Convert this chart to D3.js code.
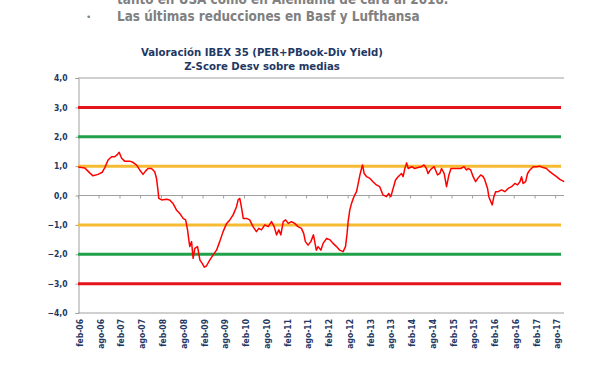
<!DOCTYPE html>
<html>
<head>
<meta charset="utf-8">
<script src="https://cdn.jsdelivr.net/npm/d3@7"></script>
<style>
  body { margin: 0; background: #fff; }
  svg { display: block; }
</style>
</head>
<body>
<svg id="chart" width="615" height="380"></svg>
<script>
// Z-score series
const dates = [
  "2006-02-03","2006-04-01","2006-05-15","2006-06-13","2006-07-27","2006-09-02","2006-09-25","2006-10-24",
  "2006-11-23","2006-12-22","2007-01-15","2007-01-29","2007-02-20","2007-03-18","2007-05-02","2007-05-30",
  "2007-06-30","2007-07-29","2007-08-27","2007-09-18","2007-10-10","2007-11-10","2007-12-08","2007-12-24",
  "2008-01-07","2008-01-13","2008-02-07","2008-03-20","2008-04-18","2008-05-17","2008-06-16","2008-07-15",
  "2008-08-14","2008-09-05","2008-09-22","2008-10-03","2008-10-12","2008-10-27","2008-11-10","2008-11-25",
  "2008-12-19","2009-01-09","2009-01-29","2009-02-16","2009-03-07","2009-04-05","2009-05-04","2009-06-04",
  "2009-07-02","2009-08-01","2009-09-01","2009-09-29","2009-10-28","2009-11-27","2009-12-11","2009-12-26",
  "2010-01-11","2010-01-25","2010-02-24","2010-03-23","2010-04-21","2010-05-21","2010-06-11","2010-07-04",
  "2010-08-03","2010-09-02","2010-10-01","2010-10-24","2010-11-14","2010-12-04","2010-12-22","2011-01-12",
  "2011-02-02","2011-02-25","2011-03-25","2011-04-23","2011-05-22","2011-06-21","2011-07-11","2011-07-26",
  "2011-08-18","2011-09-12","2011-10-05","2011-10-30","2011-11-15","2011-12-09","2011-12-29","2012-01-29",
  "2012-02-27","2012-03-25","2012-04-25","2012-05-23","2012-06-22","2012-07-13","2012-07-27","2012-08-05",
  "2012-08-20","2012-09-04","2012-09-19","2012-10-03","2012-10-18","2012-11-02","2012-11-17","2012-12-01",
  "2012-12-10","2012-12-24","2013-01-15","2013-02-13","2013-03-12","2013-04-11","2013-05-10","2013-06-08",
  "2013-07-08","2013-07-28","2013-08-16","2013-09-05","2013-09-26","2013-10-19","2013-11-18","2013-12-02",
  "2013-12-17","2014-01-02","2014-01-16","2014-02-15","2014-03-14","2014-04-12","2014-05-12","2014-06-04",
  "2014-06-25","2014-07-09","2014-08-02","2014-09-01","2014-10-01","2014-10-21","2014-11-05","2014-11-28",
  "2014-12-19","2015-01-09","2015-01-27","2015-02-23","2015-03-25","2015-04-23","2015-05-22","2015-06-13",
  "2015-06-27","2015-07-20","2015-08-10","2015-09-01","2015-09-23","2015-10-16","2015-11-06","2015-11-21",
  "2015-12-15","2015-12-26","2016-01-13","2016-01-25","2016-02-09","2016-02-24","2016-03-17","2016-04-16",
  "2016-05-15","2016-06-13","2016-07-13","2016-08-11","2016-09-04","2016-09-25","2016-10-09","2016-10-23",
  "2016-11-14","2016-12-01","2016-12-22","2017-01-20","2017-02-19","2017-03-18","2017-04-17","2017-05-16",
  "2017-06-15","2017-07-13","2017-08-13","2017-09-11","2017-10-19"
];
const zscore = [
  0.97, 0.94, 0.77, 0.67, 0.72, 0.79, 0.95, 1.21,
  1.32, 1.32, 1.40, 1.47, 1.27, 1.17, 1.17, 1.13,
  1.04, 0.87, 0.72, 0.83, 0.92, 0.92, 0.81, 0.58,
  0.13, -0.10, -0.15, -0.13, -0.15, -0.27, -0.49, -0.61,
  -0.78, -0.83, -1.17, -1.51, -1.74, -1.57, -2.14, -1.80,
  -1.74, -2.20, -2.31, -2.44, -2.40, -2.20, -2.03, -1.86,
  -1.57, -1.23, -0.95, -0.83, -0.66, -0.38, -0.15, -0.10,
  -0.44, -0.78, -0.78, -0.83, -1.06, -1.23, -1.12, -1.17,
  -1.00, -1.06, -0.89, -1.06, -1.34, -1.17, -1.34, -0.89,
  -0.83, -0.95, -0.89, -0.95, -1.06, -1.12, -1.29, -1.57,
  -1.69, -1.57, -1.34, -1.86, -1.74, -1.86, -1.63, -1.46,
  -1.51, -1.63, -1.74, -1.86, -1.91, -1.74, -1.29, -0.89,
  -0.49, -0.27, -0.10, 0.02, 0.13, 0.41, 0.70, 0.92,
  1.04, 0.75, 0.64, 0.58, 0.47, 0.36, 0.30, 0.02,
  -0.04, 0.07, -0.04, 0.24, 0.53, 0.64, 0.75, 0.64,
  0.92, 1.11, 0.92, 0.98, 0.92, 0.95, 0.98, 1.04,
  0.92, 0.75, 0.89, 0.98, 0.70, 0.75, 0.92, 0.75,
  0.30, 0.70, 0.92, 0.92, 0.92, 0.92, 0.98, 0.87,
  0.92, 0.87, 0.64, 0.47, 0.60, 0.70, 0.64, 0.53,
  0.24, -0.04, -0.21, -0.32, -0.04, 0.13, 0.13, 0.19,
  0.13, 0.24, 0.30, 0.41, 0.36, 0.47, 0.64, 0.41,
  0.47, 0.75, 0.87, 0.98, 0.98, 1.00, 0.95, 0.92,
  0.81, 0.73, 0.64, 0.55, 0.47
];

// reference bands (+/- 1, 2, 3 desv)
const bandLevels = [3, 2, 1, -1, -2, -3];
const bandColors = ["#e3141c", "#21a04a", "#f7bb33", "#f7bb33", "#21a04a", "#e3141c"];

const yTicks = [4, 3, 2, 1, 0, -1, -2, -3, -4];
const xTickLabels = ["feb-06","ago-06","feb-07","ago-07","feb-08","ago-08","feb-09","ago-09","feb-10","ago-10",
  "feb-11","ago-11","feb-12","ago-12","feb-13","ago-13","feb-14","ago-14","feb-15","ago-15","feb-16","ago-16",
  "feb-17","ago-17"];

const titleLines = ["Valoración IBEX 35 (PER+PBook-Div Yield)", "Z-Score Desv sobre medias"];

const parse = d3.timeParse("%Y-%m-%d");
const series = dates.map((d, i) => ({ date: parse(d), value: zscore[i] }));

const svg = d3.select("#chart");
const navy = "#1f3864";
const axisGrey = "#a0a0a0";

// slide text above the chart (partly cut off at the top)
svg.append("text")
  .attr("x", 117).attr("y", 4)
  .style("font-family", "'DejaVu Sans Condensed', 'DejaVu Sans', sans-serif")
  .style("font-weight", "bold").style("font-size", "13.4px")
  .attr("fill", "#808080")
  .text("tanto en USA como en Alemania de cara al 2018.");
svg.append("text")
  .attr("x", 86).attr("y", 20)
  .style("font-family", "'DejaVu Sans', sans-serif")
  .style("font-size", "9px").attr("fill", "#808080")
  .text("•");
svg.append("text")
  .attr("x", 117).attr("y", 21)
  .style("font-family", "'DejaVu Sans Condensed', 'DejaVu Sans', sans-serif")
  .style("font-weight", "bold").style("font-size", "13.4px")
  .attr("fill", "#808080")
  .text("Las últimas reducciones en Basf y Lufthansa");

// title
svg.selectAll(".title")
  .data(titleLines)
  .enter().append("text")
  .attr("class", "title")
  .attr("x", 262)
  .attr("y", (d, i) => 56 + i * 14)
  .attr("text-anchor", "middle")
  .style("font-family", "'DejaVu Sans Condensed', 'DejaVu Sans', sans-serif")
  .style("font-weight", "bold").style("font-size", "11.3px")
  .attr("fill", navy)
  .text(d => d);

// scales
const start = new Date(2006, 1, 1);
const x = d3.scaleTime()
  .domain([start, new Date(2017, 10, 1)])
  .range([78, 78 + 141 * 20.75 / 6]);
const y = d3.scaleLinear().domain([-4, 4]).range([313, 78]);
const xRight = 564;

const tickDates = xTickLabels.map((l, i) => d3.timeMonth.offset(start, i * 6));

// top gridline & bottom frame
const g = svg.append("g");
g.selectAll(".grid")
  .data([4, -4])
  .enter().append("line")
  .attr("x1", 78).attr("x2", xRight)
  .attr("y1", d => y(d)).attr("y2", d => y(d))
  .attr("stroke", axisGrey).attr("stroke-width", 1);

// y axis
const yAxis = g.append("g")
  .attr("transform", "translate(78.5,0)")
  .call(d3.axisLeft(y).tickValues(yTicks).tickSize(3).tickPadding(8)
    .tickFormat(d => d3.format(".1f")(d).replace(".", ",")));
yAxis.select(".domain").attr("stroke", axisGrey);
yAxis.selectAll(".tick line").attr("stroke", axisGrey);
yAxis.selectAll("text")
  .attr("fill", navy)
  .style("font-family", "'DejaVu Sans Condensed', 'DejaVu Sans', sans-serif")
  .style("font-weight", "bold").style("font-size", "8.5px");

// zero line with month ticks
const zeroAxis = g.append("g")
  .attr("transform", `translate(0,${y(0)})`)
  .call(d3.axisBottom(x).tickValues(tickDates).tickSize(3).tickSizeOuter(0).tickFormat(""));
zeroAxis.select(".domain").attr("stroke", axisGrey).attr("d", `M78,0H${xRight}`);
zeroAxis.selectAll(".tick line").attr("stroke", axisGrey);

// bottom date labels
g.selectAll(".xlab")
  .data(tickDates)
  .enter().append("text")
  .attr("class", "xlab")
  .attr("transform", (d, i) => `translate(${x(d) + 5},319) rotate(-90)`)
  .attr("text-anchor", "end")
  .style("font-family", "'DejaVu Sans Condensed', 'DejaVu Sans', sans-serif")
  .style("font-weight", "bold").style("font-size", "8.5px")
  .attr("fill", navy)
  .text((d, i) => xTickLabels[i]);

// band lines
g.selectAll(".band")
  .data(bandLevels)
  .enter().append("line")
  .attr("class", "band")
  .attr("x1", 78).attr("x2", 561)
  .attr("y1", d => y(d)).attr("y2", d => y(d))
  .attr("stroke", (d, i) => bandColors[i])
  .attr("stroke-width", 3);

// z-score line
const line = d3.line().x(d => x(d.date)).y(d => y(d.value));
g.append("path")
  .datum(series)
  .attr("fill", "none")
  .attr("stroke", "#ff0000")
  .attr("stroke-width", 1.5)
  .attr("stroke-linejoin", "round")
  .attr("d", line);
</script>
</body>
</html>
